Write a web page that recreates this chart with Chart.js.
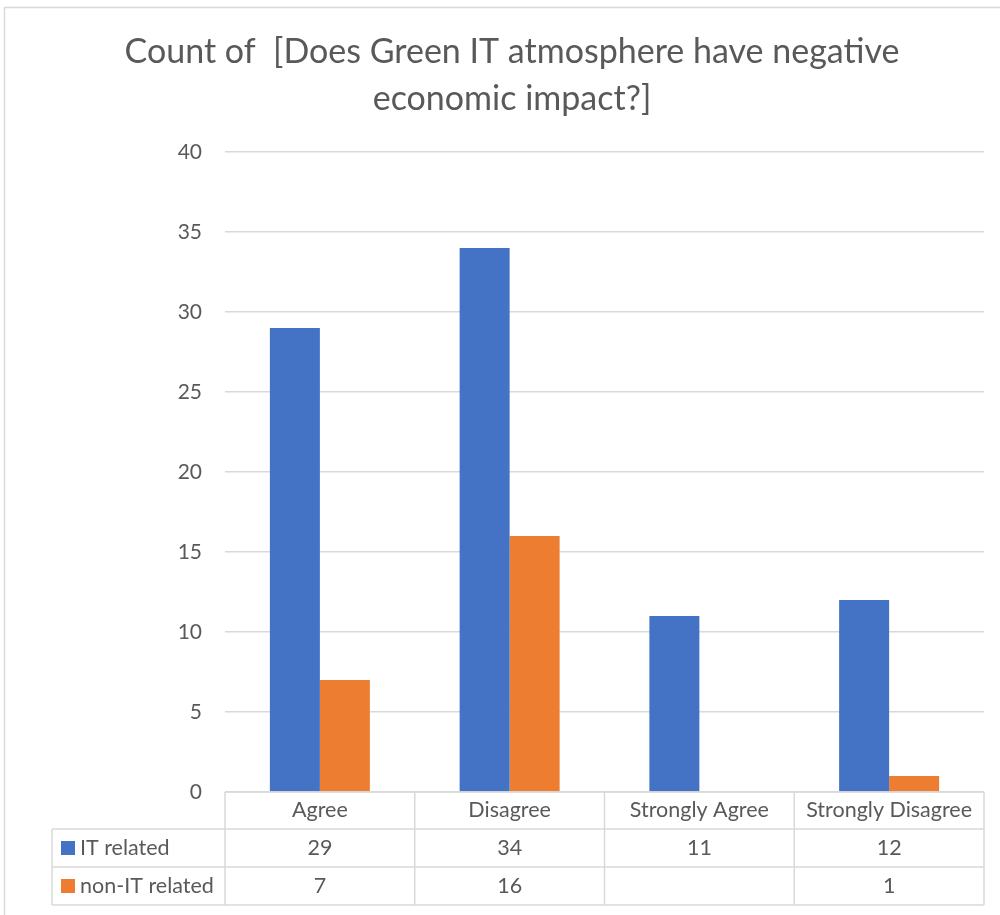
<!DOCTYPE html>
<html>
<head>
<meta charset="utf-8">
<script src="https://cdn.jsdelivr.net/npm/chart.js@4"></script>
<style>
  html, body { margin: 0; padding: 0; background: #fff; }
  #wrap { width: 1000px; height: 915px; position: relative; }
</style>
</head>
<body>
<div id="wrap"><canvas id="chart" width="1000" height="915"></canvas></div>
<script>
const categories = ['Agree', 'Disagree', 'Strongly Agree', 'Strongly Disagree'];
const itRelated = [29, 34, 11, 12];
const nonItRelated = [7, 16, null, 1];
const seriesNames = ['IT related', 'non-IT related'];
const titleLines = ['Count of  [Does Green IT atmosphere have negative', 'economic impact?]'];

const FONT = 'Lato, "Open Sans", sans-serif';
const TEXT = '#595959';
const LINE = '#D9D9D9';

// title, outer frame and the data table under the plot
const tablePlugin = {
    id: 'tablePlugin',
    afterDraw(chart) {
        const ctx = chart.ctx;
        const area = chart.chartArea;
        const xs = chart.scales.x;
        const half = (xs.getPixelForValue(1) - xs.getPixelForValue(0)) / 2;

        ctx.save();
        // frame
        ctx.strokeStyle = LINE;
        ctx.lineWidth = 1.5;
        ctx.beginPath();
        ctx.moveTo(4.5, 915);
        ctx.lineTo(4.5, 7.5);
        ctx.lineTo(1000, 7.5);
        ctx.stroke();

        // title
        ctx.fillStyle = TEXT;
        ctx.font = '34px ' + FONT;
        ctx.textAlign = 'center';
        ctx.textBaseline = 'alphabetic';
        ctx.fillText(titleLines[0], 512, 63);
        ctx.fillText(titleLines[1], 512, 110);

        // table grid
        const rows = [area.bottom, 829, 867, 905];
        const legendLeft = 52;
        ctx.strokeStyle = LINE;
        ctx.lineWidth = 1.5;
        ctx.beginPath();
        ctx.moveTo(area.left, rows[0]);
        ctx.lineTo(area.right, rows[0]);
        for (let r = 1; r < rows.length; r++) {
            ctx.moveTo(legendLeft, rows[r]);
            ctx.lineTo(area.right, rows[r]);
        }
        ctx.moveTo(legendLeft, rows[1]);
        ctx.lineTo(legendLeft, rows[3]);
        for (let i = 0; i <= categories.length; i++) {
            const x = i < categories.length ? xs.getPixelForValue(i) - half : xs.getPixelForValue(i - 1) + half;
            ctx.moveTo(x, rows[0]);
            ctx.lineTo(x, rows[3]);
        }
        ctx.stroke();

        // cells
        ctx.font = '21.5px ' + FONT;
        ctx.fillStyle = TEXT;
        ctx.textAlign = 'center';
        ctx.textBaseline = 'middle';
        categories.forEach((c, i) => {
            const x = xs.getPixelForValue(i);
            ctx.fillText(c, x, (rows[0] + rows[1]) / 2);
            ctx.fillText(String(itRelated[i]), x, (rows[1] + rows[2]) / 2);
            if (nonItRelated[i] !== null) {
                ctx.fillText(String(nonItRelated[i]), x, (rows[2] + rows[3]) / 2);
            }
        });

        // legend keys
        chart.data.datasets.forEach((ds, r) => {
            const cy = (rows[r + 1] + rows[r + 2]) / 2;
            ctx.fillStyle = ds.backgroundColor;
            ctx.fillRect(61, cy - 7, 14, 14);
            ctx.fillStyle = TEXT;
            ctx.textAlign = 'left';
            ctx.fillText(seriesNames[r], 80, cy);
        });
        ctx.restore();
    }
};

new Chart(document.getElementById('chart'), {
    type: 'bar',
    data: {
        labels: categories,
        datasets: [
            { label: seriesNames[0], data: itRelated, backgroundColor: '#4472C4' },
            { label: seriesNames[1], data: nonItRelated, backgroundColor: '#ED7D31' }
        ]
    },
    options: {
        responsive: false,
        animation: false,
        layout: { padding: { left: 0, right: 16, top: 152, bottom: 123 } },
        datasets: { bar: { categoryPercentage: 0.527, barPercentage: 1 } },
        plugins: {
            legend: { display: false },
            title: { display: false },
            tooltip: { enabled: false }
        },
        scales: {
            x: {
                grid: { display: false },
                border: { display: false },
                ticks: { display: false },
                afterFit: s => { s.height = 0; }
            },
            y: {
                min: 0,
                max: 40,
                ticks: { stepSize: 5, color: TEXT, font: { family: FONT, size: 21 }, padding: 23 },
                grid: { color: LINE, lineWidth: 1.5, drawTicks: false },
                border: { display: false },
                afterFit: s => { s.width = 225; }
            }
        }
    },
    plugins: [tablePlugin]
});
</script>
</body>
</html>
